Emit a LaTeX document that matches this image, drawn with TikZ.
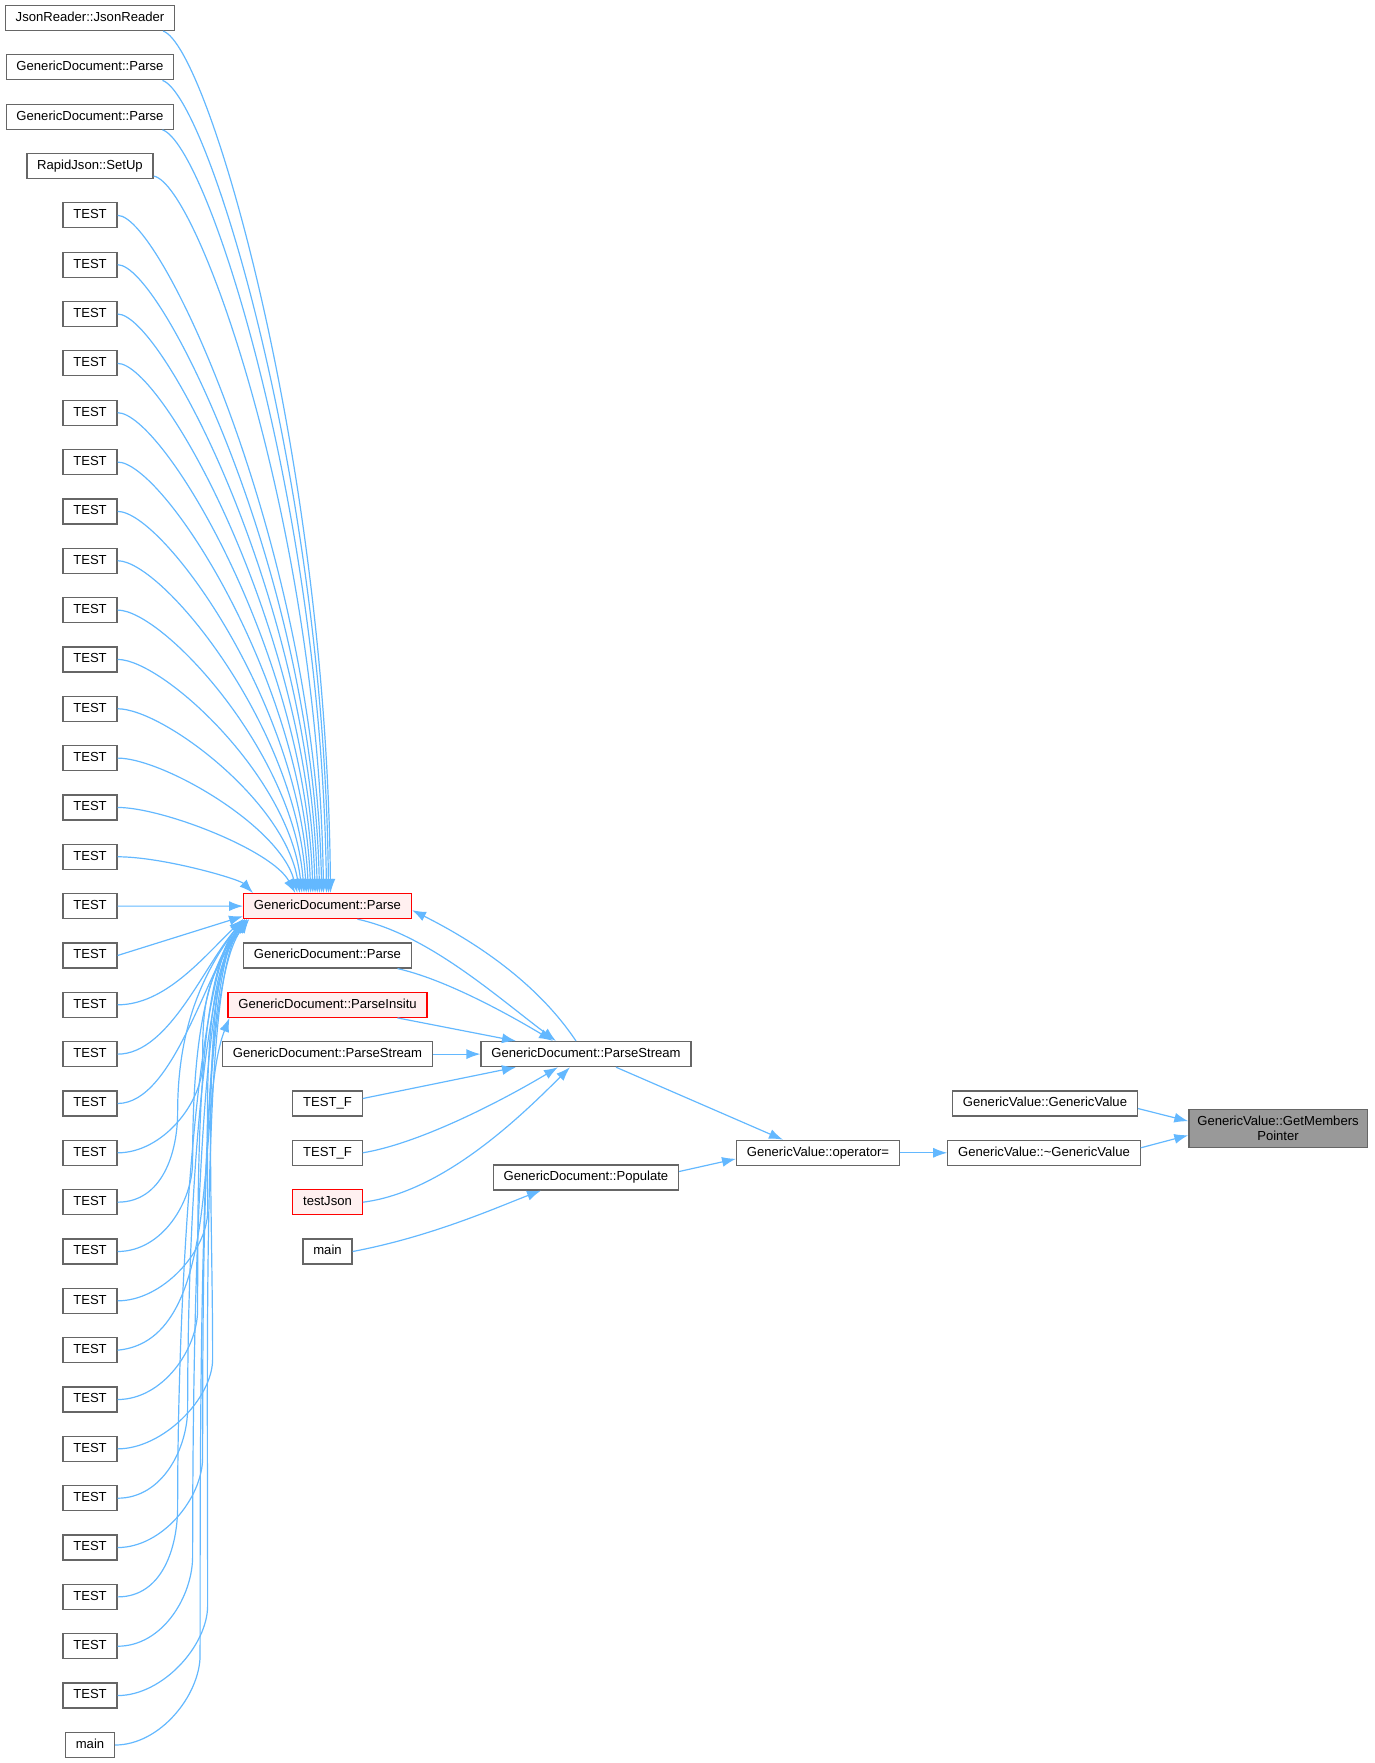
\documentclass[tikz,border=0pt]{standalone}
\usepackage{fontspec}
\setmainfont{Liberation Sans}
\usepackage{xcolor}
\usetikzlibrary{
    arrows.meta,
    calc
}

\definecolor{edgeblue}{HTML}{63B8FF}
\definecolor{boxgray}{HTML}{666666}
\definecolor{hotfill}{HTML}{FFF0F0}
\definecolor{rootfill}{HTML}{999999}

\begin{document}
\begin{tikzpicture}[
    x=1pt, y=-1pt,
    font=\fontsize{13.1pt}{15.6pt}\selectfont,
    box/.style={
        rectangle,
        draw=boxgray,
        line width=1.2pt,
        fill=white,
        inner xsep=10.3pt,
        inner ysep=0pt,
        minimum height=25pt,
        text height=9.5pt,
        text depth=2.8pt
    },
    hot/.style={
        box,
        draw=red,
        fill=hotfill
    },
    rootbox/.style={
        rectangle,
        draw=boxgray,
        line width=1.2pt,
        fill=rootfill,
        align=center,
        inner xsep=8.4pt,
        minimum height=38pt
    },
    arrow/.style={
        -{Latex[length=14pt,width=10pt]},
        line width=1.2pt,
        draw=edgeblue
    }
]
\useasboundingbox (0,0) rectangle (1375,1763);

% =========================================================
% Left column: callers of GenericDocument::Parse
% =========================================================
\node[box] (jsonreader) at (90,18) {JsonReader::JsonReader};
\node[box] (docparsea) at (90,67.3) {GenericDocument::Parse};
\node[box] (docparseb) at (90,116.7) {GenericDocument::Parse};
\node[box] (setup) at (90,166) {RapidJson::SetUp};
\foreach \i in {4,...,34}
    \node[box] (test\i) at (90,{18+49.34*\i}) {TEST};
\node[box] (mainleft) at (90,1745) {main};

% =========================================================
% Middle column: Parse variants and ParseStream callers
% =========================================================
\node[hot] (parse) at (327.5,906.1) {GenericDocument::Parse};
\node[box] (parseplain) at (327.5,955.5) {GenericDocument::Parse};
\node[hot] (parseinsitu) at (327.5,1004.8) {GenericDocument::ParseInsitu};
\node[box] (parsestreamleft) at (327.5,1054.1) {GenericDocument::ParseStream};
\node[box] (testfa) at (327.5,1103.5) {TEST\_F};
\node[box] (testfb) at (327.5,1152.8) {TEST\_F};
\node[hot] (testjson) at (327.5,1202.2) {testJson};
\node[box] (mainmid) at (327.5,1251.5) {main};

% =========================================================
% Right side: down to GetMembersPointer
% =========================================================
\node[box] (parsestream) at (586,1054.1) {GenericDocument::ParseStream};
\node[box] (populate) at (586,1177.5) {GenericDocument::Populate};
\node[box] (assign) at (818,1152.8) {GenericValue::operator=};
\node[box] (ctor) at (1045,1103.5) {GenericValue::GenericValue};
\node[box] (dtor) at (1044,1152.8) {GenericValue::\textasciitilde GenericValue};
\node[rootbox] (getmembers) at (1278,1128.2) {GenericValue::GetMembers\\Pointer};

% =========================================================
% Arrows into GenericDocument::Parse
% =========================================================
\draw[arrow] ([xshift=-12pt]jsonreader.south east) .. controls +(45,15) and +(-4,-437) .. ([xshift=3pt]parse.north);
\draw[arrow] ([xshift=-12pt]docparsea.south east) .. controls +(45,15) and +(-4,-413) .. ([xshift=1pt]parse.north);
\draw[arrow] ([xshift=-12pt]docparseb.south east) .. controls +(45,15) and +(-5,-388) .. ([xshift=-1pt]parse.north);
\draw[arrow] ([yshift=3pt]setup.south east) .. controls +(45,8) and +(-5,-364) .. ([xshift=-4pt]parse.north);
\foreach \i in {4,...,16}
    \draw[arrow] (test\i.east) .. controls +(45,0) and +({-6-30*exp(-(875-49.34*\i)/150)},{-0.5*(875-49.34*\i)}) .. ([xshift={3-2.2*\i}]parse.north);
\draw[arrow] (test17.east) .. controls +(45,0) and +(-14,-14) .. ([xshift=10pt]parse.north west);
\draw[arrow] (test18.east) -- (parse.west);
\draw[arrow] (test19.east) -- ([yshift=3pt]parse.south west);
\foreach \i in {20,...,22}
    \draw[arrow] (test\i.east) .. controls +({40+0.09*(49.34*\i-903)},0) and +(-40,{30+0.1*(49.34*\i-903)}) .. ([xshift={mod(\i,4)*2}]parse.south west);
\foreach \i in {23,...,34} {
    \ifnum\i=27\else
    \draw[arrow] (test\i.east) .. controls +(45,0) and +(0,40) .. ($(test\i.east)+({60+5*mod(3*\i,8)},-90)$)
        .. controls +(0,{-0.4*(49.34*\i-993)}) and +(-45,60) .. ([xshift={mod(\i,4)*2}]parse.south west);
    \fi
}
\draw[arrow] (mainleft.east) .. controls +(45,0) and +(0,40) .. ($(mainleft.east)+(85,-90)$)
    .. controls +(0,-290) and +(-45,60) .. ([xshift=2pt]parse.south west);
\draw[arrow] (test27.east) .. controls +(110,-10) and +(-35,90) .. ([xshift=2pt]parseinsitu.south west);

% =========================================================
% Arrows into GenericDocument::ParseStream
% =========================================================
\draw[arrow] ([xshift=30pt]parse.south) .. controls +(70,15) and +(-60,-45) .. ([xshift=-30pt]parsestream.north);
\draw[arrow] ([xshift=-10pt]parsestream.north) .. controls +(-40,-60) and +(60,30) .. ([yshift=-4pt]parse.east);
\draw[arrow] ([xshift=70pt]parseplain.south) .. controls +(45,10) and +(-50,-30) .. ([xshift=-33pt]parsestream.north);
\draw[arrow] ([xshift=70pt]parseinsitu.south) -- ([xshift=-70pt]parsestream.north);
\draw[arrow] (parsestreamleft) -- (parsestream);
\draw[arrow] ([yshift=5pt]testfa.east) -- ([xshift=-70pt]parsestream.south);
\draw[arrow] (testfb.east) .. controls +(60,-10) and +(-50,30) .. ([xshift=-28pt]parsestream.south);
\draw[arrow] (testjson.east) .. controls +(80,-10) and +(-50,50) .. ([xshift=-16pt]parsestream.south);
\draw[arrow] (mainmid.east) .. controls +(80,-15) and +(-40,15) .. ([xshift=-45pt]populate.south);

% =========================================================
% Arrows towards GetMembersPointer
% =========================================================
\draw[arrow] ([xshift=30pt]parsestream.south) -- ([xshift=-35pt]assign.north);
\draw[arrow] ([yshift=6pt]populate.east) -- ([yshift=-6pt]assign.west);
\draw[arrow] (assign) -- (dtor);
\draw[arrow] ([yshift=5pt]dtor.east) -- ([yshift=-7pt]getmembers.west);
\draw[arrow] ([yshift=-5pt]ctor.east) -- ([yshift=7pt]getmembers.west);

\end{tikzpicture}
\end{document}
